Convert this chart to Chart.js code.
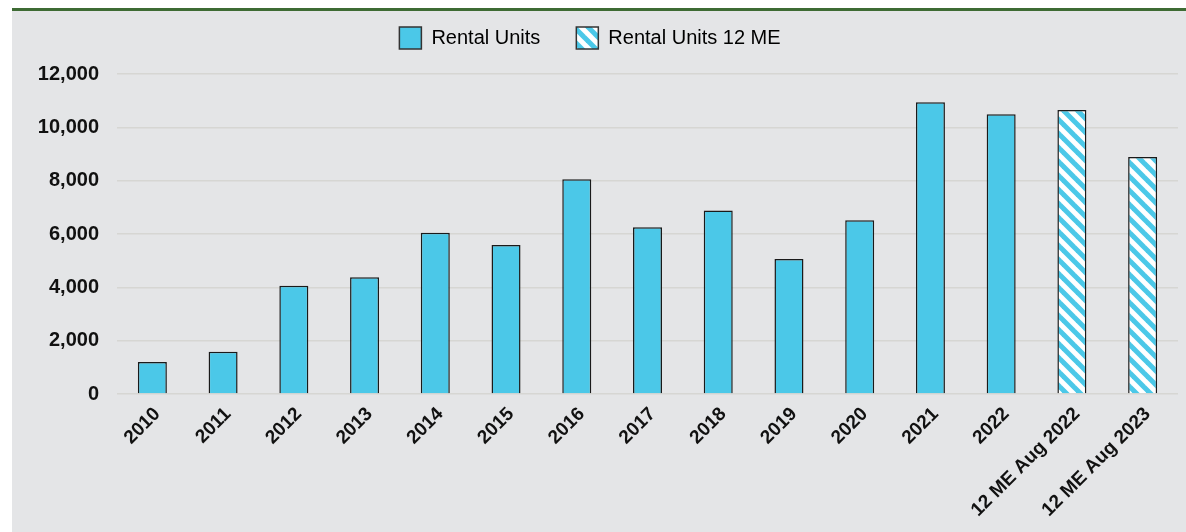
<!DOCTYPE html>
<html>
<head>
<meta charset="utf-8">
<script src="https://cdn.jsdelivr.net/npm/chart.js@4"></script>
<style>
  html, body { margin: 0; padding: 0; background: #ffffff; }
  body { width: 1186px; height: 532px; position: relative; overflow: hidden; }
  #rule { position: absolute; left: 12px; top: 8px; width: 1174px; height: 3px; background: #3e6b34; }
  #panel { position: absolute; left: 12px; top: 11px; width: 1174px; height: 521px; background: #e4e5e7; }
  #c { display: block; }
</style>
</head>
<body>
<div id="rule"></div>
<div id="panel"><canvas id="c" width="1174" height="521"></canvas></div>
<script>
const categories = ["2010","2011","2012","2013","2014","2015","2016","2017","2018","2019","2020","2021","2022","12 ME Aug 2022","12 ME Aug 2023"];
const rentalUnits = [1200, 1580, 4060, 4380, 6050, 5590, 8050, 6250, 6880, 5060, 6520, 10940, 10490, null, null];
const rentalUnits12ME = [null, null, null, null, null, null, null, null, null, null, null, null, null, 10650, 8890];
const yTicks = [0, 2000, 4000, 6000, 8000, 10000, 12000];

const BLUE = '#4bc8e8';

function makeStripes() {
  const s = 14;
  const p = document.createElement('canvas');
  p.width = s; p.height = s;
  const g = p.getContext('2d');
  g.fillStyle = '#ffffff';
  g.fillRect(0, 0, s, s);
  g.strokeStyle = BLUE;
  g.lineWidth = 5;
  for (let k = -1; k <= 1; k++) {
    g.beginPath();
    g.moveTo(-2 + k * s, -2);
    g.lineTo(s + 2 + k * s, s + 2);
    g.stroke();
  }
  return document.getElementById('c').getContext('2d').createPattern(p, 'repeat');
}
const stripes = makeStripes();

// keep the legend high and leave a gap below it, like the reference
const legendPlacement = {
  id: 'legendPlacement',
  beforeLayout(chart) {
    const lg = chart.legend;
    if (lg && !lg._wrapped) {
      const orig = lg.fit;
      lg.fit = function () { orig.call(this); this.height = 63; };
      lg._wrapped = true;
    }
  },
  afterLayout(chart) {
    const lg = chart.legend;
    if (lg) {
      lg.top = -20; lg.bottom = lg.top + lg.height;
      lg.left -= 5; lg.right -= 5;
    }
  }
};

const ctx = document.getElementById('c').getContext('2d');
new Chart(ctx, {
  type: 'bar',
  data: {
    labels: categories,
    datasets: [
      {
        label: 'Rental Units',
        data: rentalUnits,
        backgroundColor: BLUE,
        borderColor: '#1a1a1a',
        borderWidth: 1.5,
        grouped: false,
        barPercentage: 0.41,
        categoryPercentage: 1
      },
      {
        label: 'Rental Units 12 ME',
        data: rentalUnits12ME,
        backgroundColor: stripes,
        borderColor: '#1a1a1a',
        borderWidth: 1.5,
        grouped: false,
        barPercentage: 0.41,
        categoryPercentage: 1
      }
    ]
  },
  plugins: [legendPlacement],
  options: {
    responsive: false,
    animation: false,
    layout: { padding: { left: 0, right: 8, top: 0, bottom: 0 } },
    plugins: {
      tooltip: { enabled: false },
      legend: {
        display: true,
        position: 'top',
        labels: {
          color: '#111111',
          font: { family: 'Liberation Sans, Arial, sans-serif', size: 20 },
          boxWidth: 22,
          boxHeight: 22,
          padding: 36,
          generateLabels: (chart) => chart.data.datasets.map((d, i) => ({
            text: d.label,
            fillStyle: d.backgroundColor,
            strokeStyle: '#333333',
            lineWidth: 1.5,
            hidden: false,
            datasetIndex: i
          }))
        }
      }
    },
    scales: {
      x: {
        grid: { display: false, drawTicks: false },
        border: { display: false },
        ticks: {
          color: '#111111',
          font: { family: 'Liberation Sans, Arial, sans-serif', size: 19, weight: 'bold' },
          minRotation: 45,
          maxRotation: 45,
          autoSkip: false,
          padding: 9,
          labelOffset: 5
        },
        afterFit: (scale) => { scale.height = 138; }
      },
      y: {
        min: 0,
        max: 12000,
        afterBuildTicks: (scale) => { scale.ticks = yTicks.map(v => ({ value: v })); },
        grid: { color: '#d6d6d3', lineWidth: 1.5, drawTicks: false },
        border: { display: false },
        ticks: {
          color: '#111111',
          font: { family: 'Liberation Sans, Arial, sans-serif', size: 20, weight: 'bold' },
          padding: 18,
          callback: (v) => Number(v).toLocaleString('en-US')
        },
        afterFit: (scale) => { scale.width = 105; }
      }
    }
  }
});
</script>
</body>
</html>
